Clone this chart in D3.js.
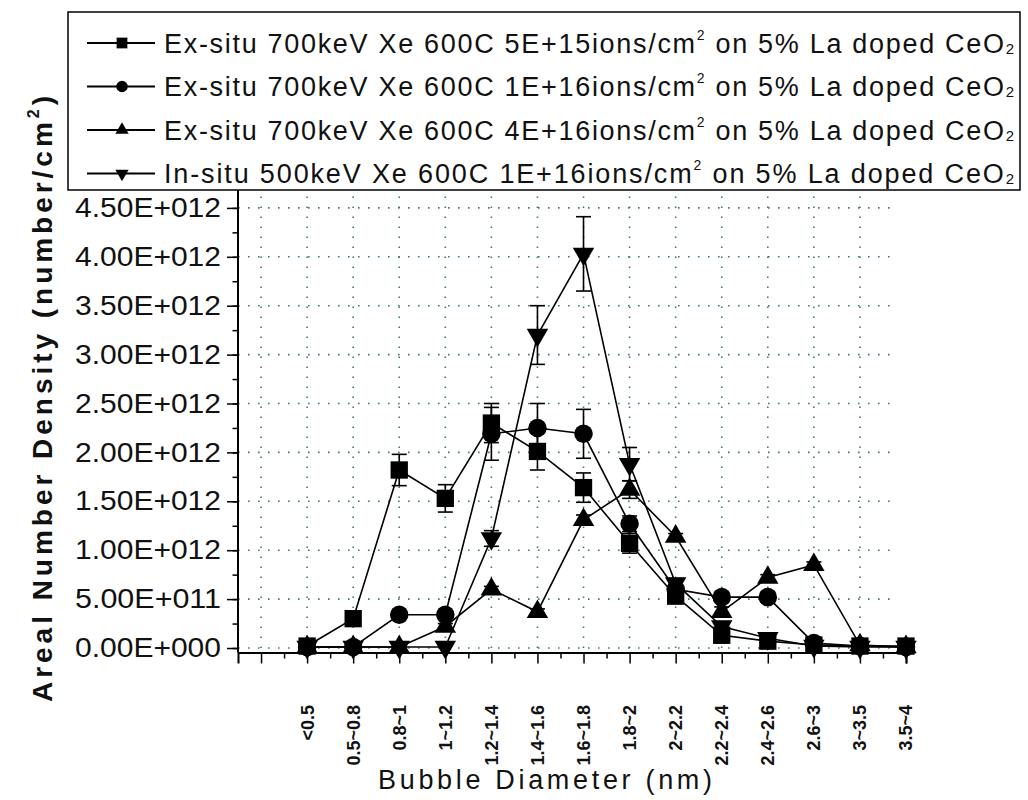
<html lang="en">
<head>
  <meta charset="UTF-8"/>
  <title>Bubble Diameter Distribution</title>
  <script src="https://d3js.org/d3.v7.min.js"></script>
  <style>
    body { margin: 0; background: #ffffff; }
    text { font-family: "Liberation Sans", Arial, sans-serif; }
  </style>
</head>
<body>
  <svg id="chart" width="1028" height="800"></svg>
<script>
const categories = ["<0.5", "0.5~0.8", "0.8~1", "1~1.2", "1.2~1.4", "1.4~1.6", "1.6~1.8",
                    "1.8~2", "2~2.2", "2.2~2.4", "2.4~2.6", "2.6~3", "3~3.5", "3.5~4"];

const exSitu5E15 = [0.02e12, 0.30e12, 1.82e12, 1.53e12, 2.30e12, 2.01e12, 1.64e12, 1.07e12, 0.53e12, 0.13e12, 0.07e12, 0.03e12, 0.02e12, 0.02e12];
const exSitu5E15Err = [0, 0, 0.16e12, 0.14e12, 0.20e12, 0.19e12, 0.15e12, 0.10e12, 0.05e12, 0.04e12, 0, 0, 0, 0];

const exSitu1E16 = [0.01e12, 0.01e12, 0.34e12, 0.34e12, 2.19e12, 2.25e12, 2.19e12, 1.27e12, 0.60e12, 0.52e12, 0.52e12, 0.05e12, 0.02e12, 0.01e12];
const exSitu1E16Err = [0, 0, 0.03e12, 0.03e12, 0.27e12, 0.25e12, 0.25e12, 0.08e12, 0.05e12, 0.05e12, 0.05e12, 0, 0, 0];

const exSitu4E16 = [0.01e12, 0.01e12, 0.01e12, 0.22e12, 0.60e12, 0.37e12, 1.31e12, 1.62e12, 1.14e12, 0.37e12, 0.72e12, 0.85e12, 0.03e12, 0.01e12];
const exSitu4E16Err = [0, 0, 0, 0.03e12, 0.03e12, 0.03e12, 0.05e12, 0.09e12, 0.03e12, 0.05e12, 0.03e12, 0.03e12, 0, 0];

const inSitu1E16 = [0.01e12, 0.01e12, 0.01e12, 0.01e12, 1.12e12, 3.20e12, 4.03e12, 1.88e12, 0.66e12, 0.22e12, 0.10e12, 0.02e12, 0.01e12, 0.01e12];
const inSitu1E16Err = [0, 0, 0, 0, 0.08e12, 0.30e12, 0.38e12, 0.17e12, 0.05e12, 0.03e12, 0.02e12, 0, 0, 0];

const yTicks = [0, 0.5e12, 1.0e12, 1.5e12, 2.0e12, 2.5e12, 3.0e12, 3.5e12, 4.0e12, 4.5e12];

const legendLabels = [
  ["Ex-situ 700keV Xe 600C 5E+15ions/cm", "2", " on 5% La doped CeO", "2"],
  ["Ex-situ 700keV Xe 600C 1E+16ions/cm", "2", " on 5% La doped CeO", "2"],
  ["Ex-situ 700keV Xe 600C 4E+16ions/cm", "2", " on 5% La doped CeO", "2"],
  ["In-situ 500keV Xe 600C 1E+16ions/cm", "2", " on 5% La doped CeO", "2"]
];

const series = [
  { values: exSitu5E15, errors: exSitu5E15Err, shape: "square" },
  { values: exSitu1E16, errors: exSitu1E16Err, shape: "circle" },
  { values: exSitu4E16, errors: exSitu4E16Err, shape: "up" },
  { values: inSitu1E16, errors: inSitu1E16Err, shape: "down" }
];

const svg = d3.select("#chart");

const xScale = d3.scaleLinear().domain([-0.5, 14]).range([238, 906]);
const yScale = d3.scaleLinear().domain([-0.046e12, 4.683e12]).range([652.5, 190]);
const gridColor = "#3f7878";

function originExp(v) {
  const s = d3.format(".2e")(v);
  const [m, e] = s.split("e");
  const sign = e[0] === "-" ? "-" : "+";
  return m + "E" + sign + e.replace(/[+-]/, "").padStart(3, "0");
}

function marker(shape, big) {
  const k = big ? 1 : 0.62;
  if (shape === "square") return d3.symbol().type(d3.symbolSquare).size(300 * k * k)();
  if (shape === "circle") return d3.symbol().type(d3.symbolCircle).size(270 * k * k)();
  return d3.symbol().type(d3.symbolTriangle).size(200 * k * k)();
}

// grid
const grid = svg.append("g");
grid.selectAll(".hgrid")
  .data(yTicks)
  .enter().append("line")
  .attr("x1", xScale(-0.5)).attr("x2", 898)
  .attr("y1", d => yScale(d)).attr("y2", d => yScale(d))
  .attr("stroke", gridColor).attr("stroke-width", 1.6)
  .attr("stroke-dasharray", "1.6,8.4");

grid.selectAll(".vgrid")
  .data(d3.range(0, 14))
  .enter().append("line")
  .attr("x1", d => xScale(d)).attr("x2", d => xScale(d))
  .attr("y1", yScale(0)).attr("y2", 190)
  .attr("stroke", gridColor).attr("stroke-width", 1.6)
  .attr("stroke-dasharray", "1.6,8.4");

// axes
const yAxis = svg.append("g")
  .attr("transform", `translate(${xScale(-0.5)},0)`)
  .call(d3.axisLeft(yScale).tickValues(d3.range(0, 4.6e12, 0.25e12))
    .tickSize(5.5).tickFormat(""));
yAxis.selectAll("line").attr("stroke", "#000").attr("stroke-width", 1.5);
yAxis.select(".domain").remove();

const yMajor = svg.append("g")
  .attr("transform", `translate(${xScale(-0.5)},0)`)
  .call(d3.axisLeft(yScale).tickValues(yTicks).tickSize(11).tickPadding(6).tickFormat(originExp));
yMajor.select(".domain").remove();
yMajor.selectAll("line").attr("stroke", "#000").attr("stroke-width", 1.5);
yMajor.selectAll("text")
  .attr("font-size", 27)
  .attr("fill", "#111")
  .attr("textLength", 146)
  .attr("lengthAdjust", "spacingAndGlyphs");

svg.append("line")
  .attr("x1", xScale(-0.5)).attr("x2", xScale(-0.5))
  .attr("y1", 190).attr("y2", 652.5)
  .attr("stroke", "#000").attr("stroke-width", 2);

const xMinor = svg.append("g")
  .attr("transform", "translate(0,652.5)")
  .call(d3.axisBottom(xScale).tickValues(d3.range(0.5, 14, 1)).tickSize(6).tickFormat(""));
xMinor.select(".domain").remove();
xMinor.selectAll("line").attr("stroke", "#000").attr("stroke-width", 1.5);

const xMajor = svg.append("g")
  .attr("transform", "translate(0,652.5)")
  .call(d3.axisBottom(xScale).tickValues(d3.range(0, 15)).tickSize(11).tickFormat(""));
xMajor.select(".domain").attr("stroke", "#000").attr("stroke-width", 2);
xMajor.selectAll("line").attr("stroke", "#000").attr("stroke-width", 1.5);

svg.append("g").selectAll("text")
  .data(categories)
  .enter().append("text")
  .attr("transform", (d, i) => `translate(${xScale(i + 1)},705) rotate(-90)`)
  .attr("text-anchor", "end")
  .attr("dy", "0.36em")
  .attr("font-size", 18)
  .attr("font-weight", "bold")
  .attr("fill", "#111")
  .text(d => d);

// lines, error bars, markers
const line = d3.line()
  .x((d, i) => xScale(i + 1))
  .y(d => yScale(d));

series.forEach(s => {
  svg.append("path")
    .datum(s.values)
    .attr("fill", "none")
    .attr("stroke", "#000")
    .attr("stroke-width", 1.6)
    .attr("d", line);
});

series.forEach(s => {
  const eb = svg.append("g").selectAll("g")
    .data(s.values.map((v, i) => ({ v: v, e: s.errors[i], i: i })).filter(d => d.e > 0))
    .enter().append("g")
    .attr("stroke", "#000").attr("stroke-width", 1.6);
  eb.append("line")
    .attr("x1", d => xScale(d.i + 1)).attr("x2", d => xScale(d.i + 1))
    .attr("y1", d => yScale(d.v - d.e)).attr("y2", d => yScale(d.v + d.e));
  eb.append("line")
    .attr("x1", d => xScale(d.i + 1) - 7.5).attr("x2", d => xScale(d.i + 1) + 7.5)
    .attr("y1", d => yScale(d.v + d.e)).attr("y2", d => yScale(d.v + d.e));
  eb.append("line")
    .attr("x1", d => xScale(d.i + 1) - 7.5).attr("x2", d => xScale(d.i + 1) + 7.5)
    .attr("y1", d => yScale(d.v - d.e)).attr("y2", d => yScale(d.v - d.e));
});

series.forEach(s => {
  svg.append("g").selectAll("path")
    .data(s.values)
    .enter().append("path")
    .attr("d", marker(s.shape, true))
    .attr("transform", (d, i) => `translate(${xScale(i + 1)},${yScale(d)})` + (s.shape === "down" ? " rotate(180)" : ""))
    .attr("fill", "#000");
});

// legend
const legend = svg.append("g");
legend.append("rect")
  .attr("x", 68).attr("y", 12)
  .attr("width", 952).attr("height", 178)
  .attr("fill", "#fff")
  .attr("stroke", "#000").attr("stroke-width", 1.5);

const rows = legend.selectAll(".row")
  .data(series)
  .enter().append("g")
  .attr("transform", (d, i) => `translate(0,${43 + i * 43.5})`);

rows.append("line")
  .attr("x1", 87).attr("x2", 155)
  .attr("stroke", "#000").attr("stroke-width", 2);

rows.append("path")
  .attr("d", d => marker(d.shape, false))
  .attr("transform", d => "translate(122,0)" + (d.shape === "down" ? " rotate(180)" : ""))
  .attr("fill", "#000");

const legendText = rows.append("text")
  .attr("x", 164)
  .attr("y", 9.5)
  .attr("font-size", 27)
  .attr("fill", "#111")
  .attr("textLength", 850)
  .attr("lengthAdjust", "spacing");

legendText.each(function(d, i) {
  const parts = legendLabels[i];
  const t = d3.select(this);
  t.append("tspan").text(parts[0]);
  t.append("tspan").attr("font-size", 14).attr("dy", -13).text(parts[1]);
  t.append("tspan").attr("dy", 13).text(parts[2]);
  t.append("tspan").attr("font-size", 15).attr("dy", 1).text(parts[3]);
});

// axis titles
svg.append("text")
  .attr("transform", "translate(52,702) rotate(-90)")
  .attr("text-anchor", "start")
  .attr("font-size", 28)
  .attr("font-weight", "bold")
  .attr("fill", "#111")
  .attr("textLength", 606)
  .attr("lengthAdjust", "spacing")
  .call(t => {
    t.append("tspan").text("Areal Number Density (number/cm");
    t.append("tspan").attr("font-size", 16).attr("dy", -13).text("2");
    t.append("tspan").attr("dy", 13).text(")");
  });

svg.append("text")
  .attr("x", 378)
  .attr("y", 789)
  .attr("font-size", 27)
  .attr("fill", "#111")
  .attr("textLength", 334)
  .attr("lengthAdjust", "spacing")
  .text("Bubble Diameter (nm)");
</script>
</body>
</html>
